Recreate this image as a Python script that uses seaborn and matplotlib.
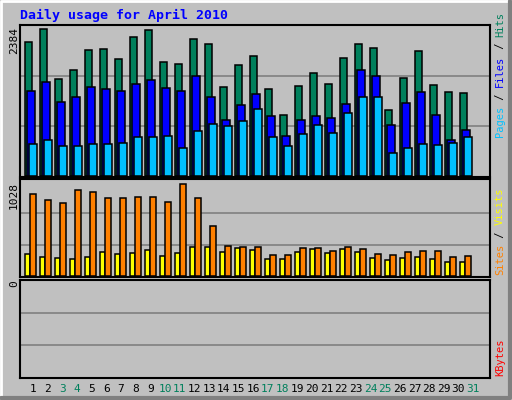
import numpy as np
import pandas as pd
import matplotlib
matplotlib.use("Agg")
import matplotlib.pyplot as plt
import seaborn as sns

days = list(range(1, 31))
hits = [2130, 2336, 1537, 1680, 1997, 2013, 1854, 2204, 2315, 1807, 1775, 2172, 2093, 1409, 1759,
        1902, 1378, 964, 1425, 1632, 1457, 1870, 2093, 2029, 1044, 1553, 1981, 1441, 1330, 1314]
files = [1346, 1489, 1171, 1250, 1409, 1378, 1346, 1457, 1521, 1394, 1346, 1584, 1250, 885, 1123,
         1298, 949, 631, 885, 949, 917, 1139, 1680, 1584, 806, 1155, 1330, 964, 567, 726]
pages = [503, 567, 472, 472, 503, 503, 519, 615, 615, 631, 440, 710, 822, 790, 869,
         1060, 615, 472, 663, 806, 679, 996, 1250, 1250, 361, 440, 503, 488, 519, 615]
visits = [892, 830, 794, 939, 917, 852, 852, 863, 863, 809, 1004, 852, 544, 330, 319,
          319, 228, 228, 308, 308, 276, 319, 297, 239, 228, 265, 276, 276, 210, 221]
sites = [243, 210, 199, 189, 210, 265, 243, 254, 286, 221, 254, 319, 319, 265, 308,
         286, 189, 189, 265, 297, 254, 297, 265, 199, 178, 199, 210, 189, 156, 156]
kbytes = [0] * 30
xlabels = [str(i) for i in range(1, 32)]
weekend = {3, 4, 10, 11, 17, 18, 24, 25, 31}
title = "Daily usage for April 2010"

sns.set_theme(style="white")
plt.rcParams['font.family'] = ['DejaVu Sans Mono', 'DejaVu Sans']

W, H = 512, 400
fig = plt.figure(figsize=(W / 100, H / 100), dpi=100)
fig.patch.set_facecolor("#C0C0C0")

def ax_px(x0, y0, x1, y1):
    return fig.add_axes([x0 / W, 1 - y1 / H, (x1 - x0) / W, (y1 - y0) / H])

bg = fig.add_axes([0, 0, 1, 1]); bg.set_axis_off(); bg.set_xlim(0, W); bg.set_ylim(H, 0)
bg.plot([1, 1, W - 1], [H - 1, 1, 1], color="white", lw=2)
bg.plot([1, W - 2, W - 2], [H - 2, H - 2, 1], color="#808080", lw=3)

XL = (1 - 5 / 15, 1 + 465 / 15)

def setup(ax, ymin, ymax, grid):
    ax.set_facecolor("#C0C0C0")
    ax.set_xlim(*XL); ax.set_ylim(ymin, ymax)
    for g in grid:
        ax.axhline(g, color="#808080", lw=1.2, zorder=0)
    ax.set_xticks([]); ax.set_yticks([])
    ax.set_xlabel(""); ax.set_ylabel("")
    for s in ax.spines.values():
        s.set_color("black"); s.set_linewidth(1.5)

def bars(ax, vals, off, w, color):
    x = np.array(days, dtype=float) + off
    ax.bar(x, vals, width=w, align="edge", color=color, edgecolor="black",
           linewidth=1.1, zorder=2)

a1 = ax_px(20, 25, 490, 177)
bars(a1, hits, 0, 7 / 15, "#00805C")
bars(a1, files, 2 / 15, 7.5 / 15, "#0000FF")
bars(a1, pages, 4 / 15, 7.5 / 15, "#00C0FF")
setup(a1, -2384 / 150, 2384 * 151 / 150, [2384 / 3, 2384 * 2 / 3])

a2 = ax_px(20, 179, 490, 277)
bars(a2, sites, 0, 4.5 / 15, "#FFFF00")
bars(a2, visits, 4.5 / 15, 6.5 / 15, "#FF8000")
setup(a2, -1028 * 0.7 / 94.5, 1028 * 97.3 / 94.5, [1028 / 3, 1028 * 2 / 3])

a3 = ax_px(20, 280, 490, 378)
bars(a3, kbytes, 0, 7 / 15, "#FF0000")
setup(a3, 0, 3, [1, 2])

fig.text(20 / W, 1 - 15 / H, title, color="#0000FF", fontsize=9.5, fontweight="bold",
         va="center", ha="left")
fig.text(14 / W, 1 - 40 / H, "2384", rotation=90, fontsize=8, va="center", ha="center", color="black")
fig.text(14 / W, 1 - 195 / H, "1028", rotation=90, fontsize=8, va="center", ha="center", color="black")
fig.text(14 / W, 1 - 284 / H, "0", rotation=90, fontsize=8, va="center", ha="center", color="black")

def vlabel(parts, x, ybottom, fs=7.5):
    adv = 0.602 * fs * 100 / 72
    y = ybottom
    for txt, col in parts:
        fig.text(x / W, 1 - y / H, txt, rotation=90, fontsize=fs, color=col,
                 va="bottom", ha="center", rotation_mode="anchor" if False else "default")
        y -= len(txt) * adv

vlabel([("Pages", "#00C0FF"), (" / ", "#000000"), ("Files", "#0000FF"), (" / ", "#000000"),
        ("Hits", "#00805C")], 500, 137)
vlabel([("Sites", "#FF8000"), (" / ", "#000000"), ("Visits", "#FFFF00")], 500, 275)
vlabel([("KBytes", "#FF0000")], 500, 376)

for i, lab in enumerate(xlabels):
    d = i + 1
    px = 25 + 14.67 * (d - 1) + 8
    fig.text(px / W, 1 - 389 / H, lab, fontsize=8, ha="center", va="center",
             color="#00805C" if d in weekend else "black")

fig.savefig("out.png", dpi=100, facecolor=fig.get_facecolor())
